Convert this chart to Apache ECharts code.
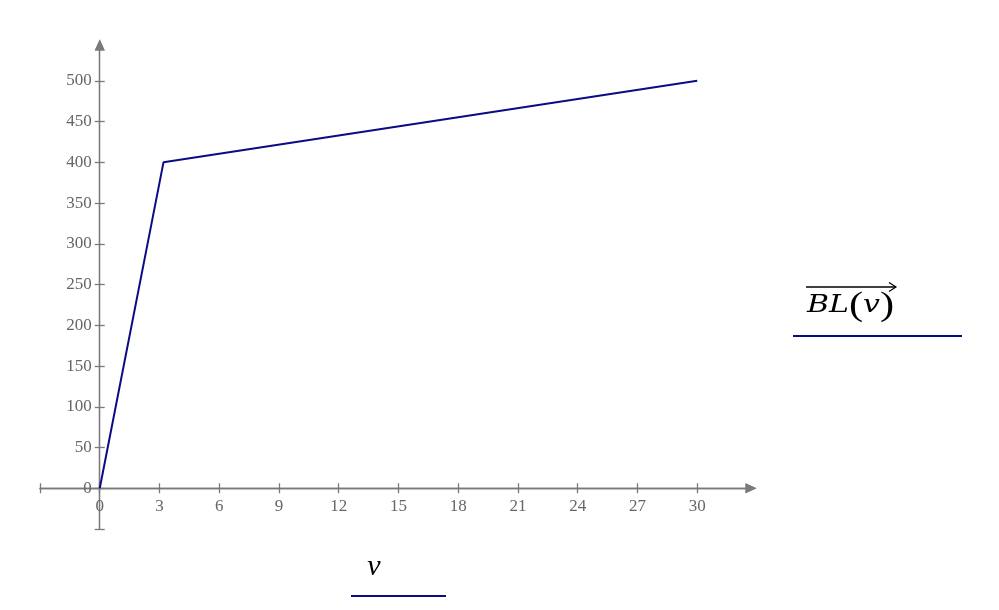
<!DOCTYPE html>
<html><head><meta charset="utf-8">
<script src="https://cdn.jsdelivr.net/npm/echarts@6/dist/echarts.min.js"></script>
<style>html,body{margin:0;padding:0;background:#fff}#c{width:999px;height:610px}</style>
</head><body><div id="c"></div>
<script>
const vValues = [0, 3.2, 30];
const blValues = [0, 400, 500];
const xTickLabels = [0, 3, 6, 9, 12, 15, 18, 21, 24, 27, 30];
const yTickLabels = [0, 50, 100, 150, 200, 250, 300, 350, 400, 450, 500];
const xTickMarks = [-3].concat(xTickLabels);
const yTickMarks = [-50].concat(yTickLabels);

const AX = '#7a7a7a', LBL = '#666666', NAVY = '#0b0b85';
const FONT = '"Liberation Serif", "DejaVu Serif", serif';
const MFONT = '"DejaVu Serif", "Liberation Serif", serif';
const X_MIN = -3, X_MAX = 32.7, Y_MIN = -50, Y_MAX = 544;
const G = { left: 40, right: 248, top: 45, bottom: 81 };
const GW = 999 - G.left - G.right, GH = 610 - G.top - G.bottom;
// pixel offsets of the zero lines from the grid edges (layout only)
const X_ZERO_OFF = (0 - Y_MIN) / (Y_MAX - Y_MIN) * GH;
const Y_ZERO_OFF = (0 - X_MIN) / (X_MAX - X_MIN) * GW;

function xAx(pos, labels, off) {
  return {
    type: 'value', position: pos, min: X_MIN, max: X_MAX, offset: off,
    axisLine: { show: true, onZero: false, symbol: ['none', 'triangle'], symbolSize: [10, 11], lineStyle: { color: AX, width: 1.3 } },
    axisTick: { show: true, length: 5, customValues: xTickMarks, lineStyle: { color: AX, width: 1.3 } },
    axisLabel: { show: labels, customValues: xTickLabels, margin: 10, color: LBL, fontFamily: FONT, fontSize: 17 },
    splitLine: { show: false }
  };
}
function yAx(pos, labels, off) {
  return {
    type: 'value', position: pos, min: Y_MIN, max: Y_MAX, offset: off,
    axisLine: { show: true, onZero: false, symbol: ['none', 'triangle'], symbolSize: [10, 11], lineStyle: { color: AX, width: 1.3 } },
    axisTick: { show: true, length: 5, customValues: yTickMarks, lineStyle: { color: AX, width: 1.3 } },
    axisLabel: { show: labels, customValues: yTickLabels, margin: 8, color: LBL, fontFamily: FONT, fontSize: 17 },
    splitLine: { show: false }
  };
}

const chart = echarts.init(document.getElementById('c'), null, { renderer: 'canvas' });
chart.setOption({
  animation: false,
  backgroundColor: '#fff',
  grid: { left: G.left, right: G.right, top: G.top, bottom: G.bottom, containLabel: false, outerBoundsMode: 'none' },
  xAxis: [xAx('bottom', true, -X_ZERO_OFF), xAx('top', false, -(GH - X_ZERO_OFF))],
  yAxis: [yAx('left', true, -Y_ZERO_OFF), yAx('right', false, -(GW - Y_ZERO_OFF))],
  series: [{
    type: 'line', xAxisIndex: 0, yAxisIndex: 0,
    data: vValues.map((v, i) => [v, blValues[i]]),
    showSymbol: false, symbol: 'none',
    lineStyle: { color: NAVY, width: 2 }
  }],
  graphic: [
    { type: 'text', x: 807, y: 306, scaleX: 1.25, style: {
        text: '{i|BL}{u|(}{i|v}{u|)}', verticalAlign: 'middle', fill: '#000',
        rich: { i: { font: 'italic 24px ' + MFONT, fill: '#000' }, u: { font: '34px ' + FONT, fill: '#000' } } } },
    { type: 'line', shape: { x1: 806, y1: 287, x2: 896, y2: 287 }, style: { stroke: '#000', lineWidth: 1.3 } },
    { type: 'polyline', shape: { points: [[889, 282.5], [896, 287], [889, 291.5]] }, style: { stroke: '#000', lineWidth: 1.2, fill: null } },
    { type: 'line', shape: { x1: 793, y1: 336, x2: 962, y2: 336 }, style: { stroke: NAVY, lineWidth: 2 } },
    { type: 'text', x: 374, y: 567, style: { text: 'v', align: 'center', verticalAlign: 'middle', font: 'italic 30px ' + FONT, fill: '#000' } },
    { type: 'line', shape: { x1: 351, y1: 596, x2: 446, y2: 596 }, style: { stroke: NAVY, lineWidth: 2 } }
  ]
});
</script></body></html>
